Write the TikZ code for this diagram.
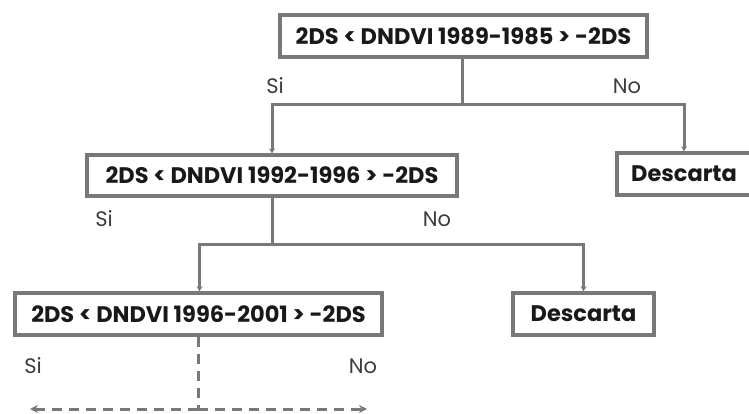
\documentclass[tikz,border=0pt]{standalone}
\usepackage{fontspec}
\setmainfont{Poppins}
\usetikzlibrary{arrows.meta}
\definecolor{boxgray}{RGB}{120,120,120}
\definecolor{labgray}{RGB}{60,60,60}
\begin{document}
\begin{tikzpicture}[x=1pt,y=-1pt,
  cond/.style={draw=boxgray,line width=3.4pt,fill=white,inner sep=0pt,font=\fontsize{22.5}{26}\selectfont\bfseries,text=black!90},
  lab/.style={font=\fontsize{21}{24}\selectfont,text=labgray},
  conn/.style={draw=boxgray,line width=3pt,-{Stealth[length=5pt,width=6pt]}},
  dconn/.style={draw=boxgray,line width=3pt,dash pattern=on 10pt off 7pt},
  dtip/.style={draw=boxgray,line width=3pt,dash pattern=on 10pt off 7pt,-{Stealth[length=8pt,width=8pt]}}]
\useasboundingbox (0,0) rectangle (749,414);
\node[cond,minimum width=367pt,minimum height=42pt] (c1) at (463.5,36) {2DS < DNDVI 1989-1985 > -2DS};
\node[cond,minimum width=370pt,minimum height=41pt] (c2) at (272,175.5) {2DS < DNDVI 1992-1996 > -2DS};
\node[cond,minimum width=134pt,minimum height=42pt] (d1) at (684,174) {Descarta};
\node[cond,minimum width=367pt,minimum height=42pt] (c3) at (198.5,314) {2DS < DNDVI 1996-2001 > -2DS};
\node[cond,minimum width=141pt,minimum height=42pt] (d2) at (583.5,314) {Descarta};
\node[lab] (s1) at (275,86) {Si};
\node[lab] (n1) at (627,86) {No};
\node[lab] (s2) at (104,219) {Si};
\node[lab] (n2) at (437,219) {No};
\node[lab] (s3) at (33,366) {Si};
\node[lab] (n3) at (363,366) {No};
\coordinate (j1) at (462,105);
\coordinate (j2) at (272,244);
\coordinate (j3) at (198,409);
\coordinate (e1) at (30,409);
\coordinate (e2) at (367,409);
\draw[draw=boxgray,line width=3pt] (c1.south -| j1) -- (j1);
\draw[conn] (j1) -| (c2.north);
\draw[conn] (j1) -| (d1.north);
\draw[draw=boxgray,line width=3pt] (c2.south) -- (j2);
\draw[conn] (j2) -| ([xshift=1pt]c3.north);
\draw[conn] (j2) -| (d2.north);
\draw[dconn] (c3.south -| j3) -- (j3);
\draw[dtip] (j3) -- (e1);
\draw[dtip] (j3) -- (e2);
\end{tikzpicture}
\end{document}
